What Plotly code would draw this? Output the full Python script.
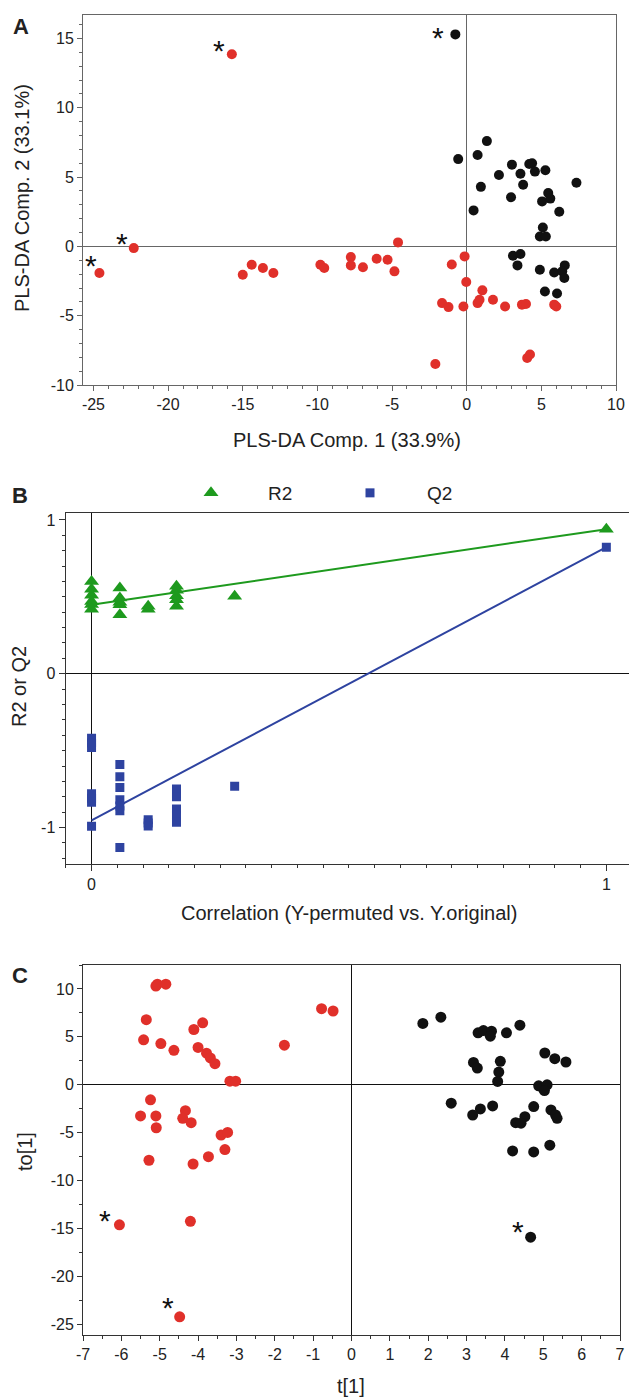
import plotly.graph_objects as go

W, H = 629, 1397
FONT = "Liberation Sans, Arial, Helvetica, sans-serif"

# ---------------- Panel A data (PLS-DA scores) ----------------
a_red_x = [-15.73, -22.3, -4.6, -24.6, -15.0, -14.4, -13.65, -12.95, -9.8, -9.54,
           -7.76, -7.76, -6.95, -6.03, -5.3, -4.84, -0.14, -1.0, -0.03, 1.05,
           -1.65, -1.22, -0.22, 0.73, 0.86, 1.76, 2.57, 3.7, 3.97, 5.86,
           6.0, -2.1, 4.05, 4.24]
a_red_y = [13.87, -0.12, 0.29, -1.92, -2.04, -1.32, -1.56, -1.92, -1.32, -1.56,
           -0.77, -1.37, -1.5, -0.89, -0.96, -1.8, -0.72, -1.3, -2.57, -3.17,
           -4.09, -4.38, -4.33, -4.09, -3.85, -3.85, -4.33, -4.2, -4.16, -4.2,
           -4.33, -8.49, -8.05, -7.8]
a_black_x = [-0.76, -0.57, 0.73, 1.35, 0.95, 0.46, 2.16, 3.03, 2.97, 3.6,
             3.78, 4.19, 4.38, 4.57, 5.27, 5.46, 5.05, 5.6, 6.2, 7.35,
             5.1, 4.9, 5.3, 3.1, 3.6, 3.4, 4.9, 5.86, 6.57, 6.4,
             6.54, 5.24, 6.05]
a_black_y = [15.3, 6.3, 6.6, 7.6, 4.3, 2.6, 5.15, 5.9, 3.55, 5.25,
             4.45, 5.95, 6.0, 5.4, 5.5, 3.85, 3.25, 3.45, 2.5, 4.6,
             1.37, 0.72, 0.72, -0.67, -0.55, -1.37, -1.68, -1.88, -1.37, -1.8,
             -2.28, -3.25, -3.4]
a_red_flag = [0, 1, 3]      # indices marked with *
a_black_flag = [0]
a_xticks = [-25, -20, -15, -10, -5, 0, 5, 10]
a_yticks = [-10, -5, 0, 5, 10, 15]

# ---------------- Panel B data (permutation test) ----------------
r2_x = [0, 0, 0, 0, 0, 0,
        0.055, 0.055, 0.055, 0.055, 0.055,
        0.11, 0.11,
        0.165, 0.165, 0.165, 0.165, 0.165,
        0.278, 1.0]
r2_y = [0.60, 0.55, 0.51, 0.47, 0.45, 0.42,
        0.557, 0.492, 0.464, 0.448, 0.383,
        0.438, 0.42,
        0.568, 0.542, 0.507, 0.481, 0.438,
        0.503, 0.94]
q2_x = [0, 0, 0, 0, 0, 0, 0,
        0.055, 0.055, 0.055, 0.055, 0.055, 0.055, 0.055,
        0.11, 0.11, 0.11,
        0.165, 0.165, 0.165, 0.165, 0.165, 0.165,
        0.278, 1.0]
q2_y = [-0.42, -0.45, -0.48, -0.78, -0.81, -0.835, -0.992,
        -0.59, -0.67, -0.74, -0.82, -0.86, -0.89, -1.13,
        -0.95, -0.97, -0.99,
        -0.75, -0.78, -0.80, -0.88, -0.92, -0.965,
        -0.732, 0.823]
r2_line_x = [0, 1]
r2_line_y = [0.448, 0.94]
q2_line_x = [0, 1]
q2_line_y = [-0.953, 0.823]
b_xticks = [0, 1]
b_yticks = [-1, 0, 1]

# ---------------- Panel C data (OPLS-DA scores) ----------------
c_red_x = [-5.1, -5.06, -4.84, -5.35, -5.42, -4.97, -4.63, -4.11, -3.88, -4.0,
           -3.78, -3.68, -3.56, -3.17, -3.02, -1.75, -0.78, -0.48, -5.24, -5.5,
           -5.1, -5.09, -4.33, -4.4, -4.18, -3.4, -3.23, -3.3, -3.73, -5.28,
           -4.13, -6.05, -4.2, -4.48]
c_red_y = [10.3, 10.5, 10.5, 6.8, 4.7, 4.3, 3.6, 5.77, 6.47, 3.9,
           3.3, 2.8, 2.2, 0.38, 0.38, 4.13, 7.94, 7.7, -1.57, -3.25,
           -3.25, -4.48, -2.7, -3.5, -3.95, -5.24, -4.97, -6.75, -7.5, -7.87,
           -8.26, -14.6, -14.24, -24.2]
c_black_x = [1.86, 2.33, 3.3, 3.44, 3.65, 3.62, 4.04, 4.39, 3.18, 3.28,
             3.88, 3.84, 3.81, 5.04, 5.3, 5.59, 4.88, 4.99, 5.1, 5.03,
             2.6, 3.36, 3.68, 3.16, 4.75, 4.52, 4.28, 4.42, 5.2, 5.32,
             5.36, 5.17, 4.2, 4.75, 4.67]
c_black_y = [6.4, 7.06, 5.42, 5.66, 5.6, 5.07, 5.42, 6.22, 2.34, 1.75,
             2.45, 1.33, 0.35, 3.32, 2.73, 2.38, -0.1, -0.35, 0.0, -0.6,
             -1.92, -2.52, -2.2, -3.15, -2.27, -3.32, -3.95, -4.0, -2.62, -3.15,
             -3.5, -6.3, -6.9, -7.0, -15.9]
c_red_flag = [31, 33]
c_black_flag = [34]
c_xticks = [-7, -6, -5, -4, -3, -2, -1, 0, 1, 2, 3, 4, 5, 6, 7]
c_yticks = [-25, -20, -15, -10, -5, 0, 5, 10]

# ---------------- styles ----------------
RED = "#e0302a"
BLACK = "#111111"
GREEN = "#1e9a1e"
BLUE = "#2e43a0"
# pixel offsets of the "*" labels relative to their flagged points (style only)
a_red_star_shift = [(-13, 4), (-12, 5), (-8, 8)]
a_black_star_shift = [(-17, -3)]
c_red_star_shift = [(-14, 4), (-12, 9)]
c_black_star_shift = [(-13, 6)]


def px_x(p):
    return p / W


def px_y(p):
    return 1 - p / H


fig = go.Figure()

# Panel A traces
fig.add_trace(go.Scatter(x=a_red_x, y=a_red_y, mode="markers", xaxis="x", yaxis="y",
                         marker=dict(color=RED, size=10), showlegend=False))
fig.add_trace(go.Scatter(x=a_black_x, y=a_black_y, mode="markers", xaxis="x", yaxis="y",
                         marker=dict(color=BLACK, size=10), showlegend=False))

# Panel B traces
fig.add_trace(go.Scatter(x=r2_line_x, y=r2_line_y, mode="lines", xaxis="x2", yaxis="y2",
                         line=dict(color=GREEN, width=2), showlegend=False))
fig.add_trace(go.Scatter(x=q2_line_x, y=q2_line_y, mode="lines", xaxis="x2", yaxis="y2",
                         line=dict(color=BLUE, width=2), showlegend=False))
fig.add_trace(go.Scatter(x=r2_x, y=r2_y, mode="markers", xaxis="x2", yaxis="y2",
                         name="\u00a0" * 7 + "R2",
                         marker=dict(color=GREEN, size=13, symbol="triangle-up")))
fig.add_trace(go.Scatter(x=q2_x, y=q2_y, mode="markers", xaxis="x2", yaxis="y2",
                         name="\u00a0" * 7 + "Q2",
                         marker=dict(color=BLUE, size=9, symbol="square")))

# Panel C traces
fig.add_trace(go.Scatter(x=c_red_x, y=c_red_y, mode="markers", xaxis="x3", yaxis="y3",
                         marker=dict(color=RED, size=11), showlegend=False))
fig.add_trace(go.Scatter(x=c_black_x, y=c_black_y, mode="markers", xaxis="x3", yaxis="y3",
                         marker=dict(color=BLACK, size=11), showlegend=False))

annotations = []


def stars(xs, ys, flags, shifts, xr, yr):
    for i, (dx, dy) in zip(flags, shifts):
        annotations.append(dict(x=xs[i], y=ys[i], xref=xr, yref=yr, text="*", showarrow=False,
                                xshift=dx, yshift=dy,
                                font=dict(family=FONT, size=30, color=BLACK)))


stars(a_red_x, a_red_y, a_red_flag, a_red_star_shift, "x", "y")
stars(a_black_x, a_black_y, a_black_flag, a_black_star_shift, "x", "y")
stars(c_red_x, c_red_y, c_red_flag, c_red_star_shift, "x3", "y3")
stars(c_black_x, c_black_y, c_black_flag, c_black_star_shift, "x3", "y3")


def label(text, x, y, size=20, bold=False, angle=0):
    annotations.append(dict(x=px_x(x), y=px_y(y), xref="paper", yref="paper",
                            text=("<b>%s</b>" % text) if bold else text, showarrow=False,
                            textangle=angle, xanchor="center", yanchor="middle",
                            font=dict(family=FONT, size=size, color="#222")))


label("A", 21, 27, size=22, bold=True)
label("PLS-DA Comp. 2 (33.1%)", 22, 198, angle=-90)
label("PLS-DA Comp. 1 (33.9%)", 347, 440)
label("B", 20, 496, size=22, bold=True)
label("R2 or Q2", 19, 687, angle=-90)
label("Correlation (Y-permuted vs. Y.original)", 349, 913)
label("C", 20, 975, size=22, bold=True)
label("to[1]", 25, 1152, angle=-90)
label("t[1]", 351, 1386)

tickfont = dict(family=FONT, size=16, color="#222")


def fmt(v):
    return ("-%g" % abs(v)) if v < 0 else ("%g" % v)


def axis(domain, rng, tickvals, minor_dtick, linecolor, anchor, zerocolor, ticklen=5):
    return dict(domain=domain, range=rng, tickmode="array", tickvals=tickvals,
                ticktext=[fmt(v) for v in tickvals], automargin=False,
                ticks="outside", ticklen=ticklen, tickcolor=linecolor, tickwidth=1,
                minor=dict(dtick=minor_dtick, ticks="outside", ticklen=3, tickcolor=linecolor),
                showline=True, linecolor=linecolor, linewidth=1, mirror=True,
                showgrid=False, zeroline=True, zerolinecolor=zerocolor, zerolinewidth=1,
                tickfont=tickfont, anchor=anchor, fixedrange=True)


fig.update_layout(
    width=W, height=H, margin=dict(l=0, r=0, t=0, b=0, autoexpand=False),
    paper_bgcolor="white", plot_bgcolor="white",
    font=dict(family=FONT, color="#222"),
    xaxis=axis([px_x(83), px_x(616)], [-25.7, 10], a_xticks, 1, "#666", "y", "#666"),
    yaxis=axis([px_y(385), px_y(15)], [-10, 16.7], a_yticks, 1, "#666", "x", "#666"),
    xaxis2=axis([px_x(65.5), 1.0], [-0.0506, 1.044], b_xticks, 0.05, "#333", "y2", "#111",
                ticklen=6),
    yaxis2=axis([px_y(864), px_y(513)], [-1.237, 1.045], b_yticks, 0.1, "#333", "x2", "#111",
                ticklen=6),
    xaxis3=axis([px_x(83), px_x(620)], [-7, 7], c_xticks, 0.5, "#333", "y3", "#111"),
    yaxis3=axis([px_y(1335), px_y(965)], [-26.1, 12.5], c_yticks, 2.5, "#333", "x3", "#111"),
    legend=dict(orientation="h", x=px_x(191), y=px_y(493), xanchor="left", yanchor="middle",
                entrywidth=114, entrywidthmode="pixels",
                font=dict(family=FONT, size=19, color="#222"), bgcolor="rgba(0,0,0,0)"),
    annotations=annotations,
    hovermode=False,
)

fig.write_html("out.html", config={"displayModeBar": False, "staticPlot": True},
               post_script="document.body.style.margin='0';")
